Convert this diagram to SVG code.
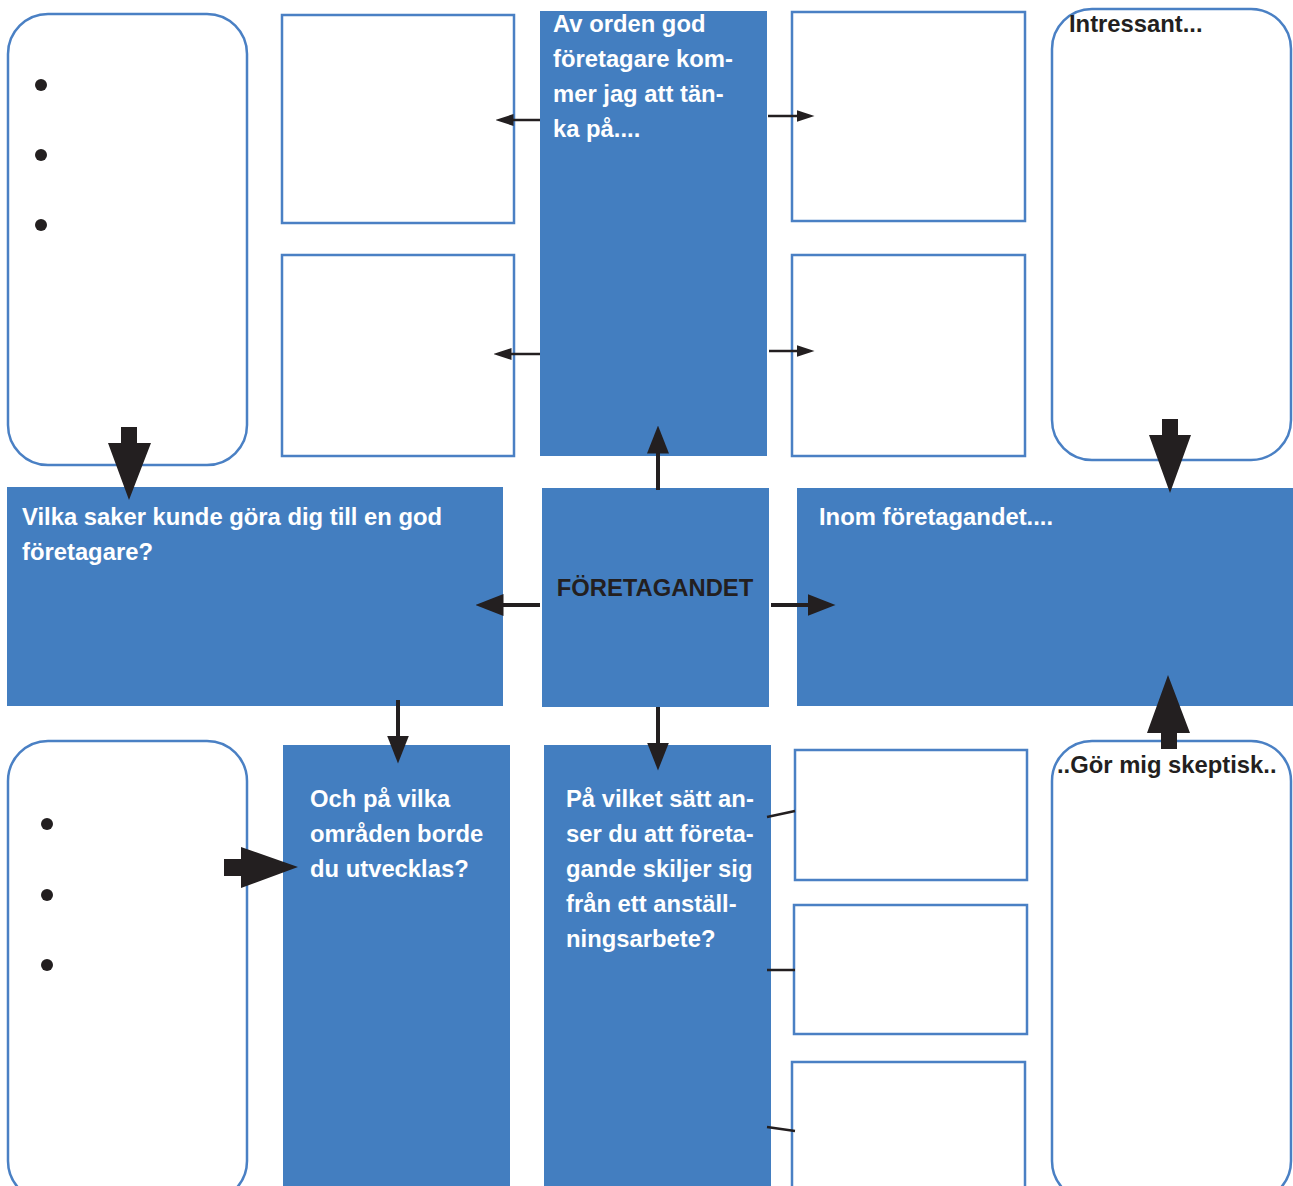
<svg xmlns="http://www.w3.org/2000/svg" width="1293" height="1186" viewBox="0 0 1293 1186">
<style>
.blue{fill:#437EC0}
.box{fill:#fff;stroke:#4A80C4;stroke-width:2.5}
.wt{font-family:"Liberation Sans",Arial,sans-serif;font-weight:bold;font-size:23.8px;fill:#fff}
.bt{font-family:"Liberation Sans",Arial,sans-serif;font-weight:bold;font-size:23.8px;fill:#231F20}
.dot{fill:#231F20}
.ln{stroke:#231F20;fill:none;stroke-linecap:butt}
.blk{fill:#231F20}
</style>
<defs>
<marker id="ahS" viewBox="0 0 18 12" refX="0.5" refY="6" markerWidth="18" markerHeight="12" markerUnits="userSpaceOnUse" orient="auto"><path d="M0,0 L18,6 L0,12 z" fill="#231F20"/></marker>
<marker id="ahM" viewBox="0 0 28 22" refX="0.5" refY="11" markerWidth="28" markerHeight="22" markerUnits="userSpaceOnUse" orient="auto"><path d="M0,0 L28,11 L0,22 z" fill="#231F20"/></marker>
</defs>
<rect width="1293" height="1186" fill="#fff"/>

<g id="bullets-top">
<rect class="box" x="8" y="14" width="239" height="451" rx="40"/>
<circle class="dot" cx="41" cy="85" r="6"/>
<circle class="dot" cx="41" cy="155" r="6"/>
<circle class="dot" cx="41" cy="225" r="6"/>
</g>
<g id="tl-box1"><rect class="box" x="282" y="15" width="232" height="208"/></g>
<g id="tl-box2"><rect class="box" x="282" y="255" width="232" height="201"/></g>
<g id="tr-box1"><rect class="box" x="792" y="12" width="233" height="209"/></g>
<g id="tr-box2"><rect class="box" x="792" y="255" width="233" height="201"/></g>
<g id="av-orden">
<rect class="blue" x="540" y="11" width="227" height="445"/>
<text class="wt" x="553" y="32">Av orden god</text>
<text class="wt" x="553" y="67">företagare kom-</text>
<text class="wt" x="553" y="102">mer jag att tän-</text>
<text class="wt" x="553" y="137">ka på....</text>
</g>
<g id="intressant">
<rect class="box" x="1052" y="9" width="239" height="451" rx="40"/>
<text class="bt" x="1069" y="32">Intressant...</text>
</g>
<g id="vilka-saker">
<rect class="blue" x="7" y="487" width="496" height="219"/>
<text class="wt" x="22" y="525">Vilka saker kunde göra dig till en god</text>
<text class="wt" x="22" y="560">företagare?</text>
</g>
<g id="foretagandet">
<rect class="blue" x="542" y="488" width="227" height="219"/>
<text class="bt" x="655" y="596" text-anchor="middle">FÖRETAGANDET</text>
</g>
<g id="inom">
<rect class="blue" x="797" y="488" width="496" height="218"/>
<text class="wt" x="819" y="525">Inom företagandet....</text>
</g>
<g id="bullets-bottom">
<rect class="box" x="8" y="741" width="239" height="460" rx="40"/>
<circle class="dot" cx="47" cy="824" r="6"/>
<circle class="dot" cx="47" cy="895" r="6"/>
<circle class="dot" cx="47" cy="965" r="6"/>
</g>
<g id="och-pa-vilka">
<rect class="blue" x="283" y="745" width="227" height="441"/>
<text class="wt" x="310" y="807">Och på vilka</text>
<text class="wt" x="310" y="842">områden borde</text>
<text class="wt" x="310" y="877">du utvecklas?</text>
</g>
<g id="pa-vilket-satt">
<rect class="blue" x="544" y="745" width="227" height="441"/>
<text class="wt" x="566" y="807">På vilket sätt an-</text>
<text class="wt" x="566" y="842">ser du att företa-</text>
<text class="wt" x="566" y="877">gande skiljer sig</text>
<text class="wt" x="566" y="912">från ett anställ-</text>
<text class="wt" x="566" y="947">ningsarbete?</text>
</g>
<g id="br-box1"><rect class="box" x="795" y="750" width="232" height="130"/></g>
<g id="br-box2"><rect class="box" x="794" y="905" width="233" height="129"/></g>
<g id="br-box3"><rect class="box" x="792" y="1062" width="233" height="140"/></g>
<g id="skeptisk">
<rect class="box" x="1052" y="741" width="239" height="460" rx="40"/>
<text class="bt" x="1057" y="773">..Gör mig skeptisk..</text>
</g>

<g id="connectors">
<line class="ln" stroke-width="2.5" x1="540" y1="120" x2="513" y2="120" marker-end="url(#ahS)"/>
<line class="ln" stroke-width="2.5" x1="540" y1="354" x2="511" y2="354" marker-end="url(#ahS)"/>
<line class="ln" stroke-width="2.5" x1="768" y1="116" x2="797" y2="116" marker-end="url(#ahS)"/>
<line class="ln" stroke-width="2.5" x1="769" y1="351" x2="797" y2="351" marker-end="url(#ahS)"/>
<line class="ln" stroke-width="4" x1="658" y1="490" x2="658" y2="453" marker-end="url(#ahM)"/>
<line class="ln" stroke-width="4" x1="540" y1="605" x2="503" y2="605" marker-end="url(#ahM)"/>
<line class="ln" stroke-width="4" x1="771" y1="605" x2="808" y2="605" marker-end="url(#ahM)"/>
<line class="ln" stroke-width="4" x1="658" y1="707" x2="658" y2="743" marker-end="url(#ahM)"/>
<line class="ln" stroke-width="4" x1="398" y1="700" x2="398" y2="736" marker-end="url(#ahM)"/>
<line class="ln" stroke-width="2.5" x1="767" y1="817" x2="795" y2="811"/>
<line class="ln" stroke-width="2.5" x1="767" y1="970" x2="795" y2="970"/>
<line class="ln" stroke-width="2.5" x1="767" y1="1127" x2="795" y2="1131"/>
<polygon class="blk" points="121,427 137,427 137,443 151,443 129,500 108,443 121,443"/>
<polygon class="blk" points="1162,419 1178,419 1178,435 1191,435 1170,493 1149,435 1162,435"/>
<polygon class="blk" points="1161,749 1177,749 1177,733 1190,733 1168,675 1147,733 1161,733"/>
<polygon class="blk" points="224,859 241,859 241,847 298,867 241,888 241,876 224,876"/>
</g>
</svg>
